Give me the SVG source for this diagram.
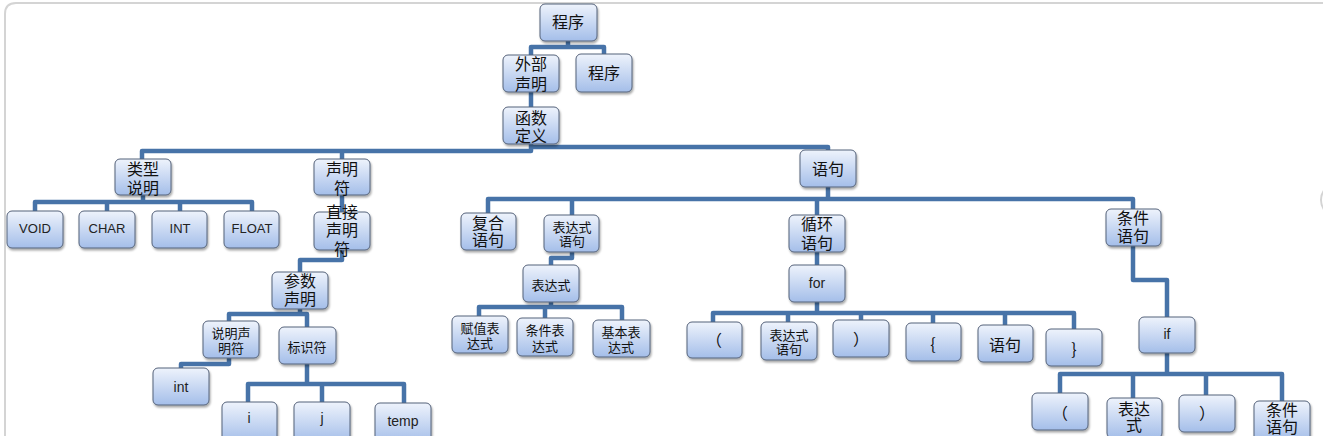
<svg xmlns="http://www.w3.org/2000/svg" width="1323" height="436" viewBox="0 0 1323 436">
<style>
.b{fill:url(#g);stroke:#55627a;stroke-width:1;filter:url(#sh)}
.t{font-family:"Noto Sans CJK SC","Liberation Sans",sans-serif;font-size:16px;fill:#111;text-anchor:middle;dominant-baseline:central}
.s{font-size:13px}
.l{font-family:"Liberation Sans","Noto Sans",sans-serif;font-size:13px;fill:#222;text-anchor:middle;dominant-baseline:central}
.m{font-size:14px}
.k{fill:none;stroke:#4773a8;stroke-width:4.5;stroke-linejoin:round}
.f{fill:none;stroke:#d4d4d4;stroke-width:2}
</style>
<defs>
<linearGradient id="g" x1="0" y1="0" x2="0" y2="1">
<stop offset="0" stop-color="#eef3fc"/>
<stop offset="1" stop-color="#a4bee9"/>
</linearGradient>
<filter id="sh" x="-20%" y="-20%" width="150%" height="150%">
<feDropShadow dx="1" dy="2" stdDeviation="1.3" flood-color="#000" flood-opacity="0.35"/>
</filter>
</defs>
<rect width="1323" height="436" fill="#fff"/>
<g id="frame">
<path class="f" d="M5,436 V14 Q5,3 16,3 H1323"/>
<circle class="f" cx="1338" cy="200" r="17"/>
</g>
<g id="connectors">
<path class="k" d="M531,55 V47 H604 V54 M568,41 V47"/>
<path class="k" d="M531,92 V107"/>
<path class="k" d="M142,159 V151 H531 V144 M342,151 V159 M531,147 H828 V150"/>
<path class="k" d="M143,195 V202 M35,211 V202 H252 V211 M107,202 V211 M180,202 V211"/>
<path class="k" d="M342,195 V212"/>
<path class="k" d="M342,250 V260 H300 V272"/>
<path class="k" d="M300,309 V314 H229 V321 M300,314 H307 V327"/>
<path class="k" d="M229,358 V364 H181 V368"/>
<path class="k" d="M307,364 V384 M248,402 V384 H404 V403 M322,384 V402"/>
<path class="k" d="M828,187 V199 M488,213 V199 H1133 V209 M572,199 V215 M817,199 V215"/>
<path class="k" d="M572,252 V258 H551 V265"/>
<path class="k" d="M551,302 V307 M479,316 V307 H622 V320 M545,307 V318"/>
<path class="k" d="M817,252 V265"/>
<path class="k" d="M817,302 V313 M713,322 V313 H1074 V329 M788,313 V322 M861,313 V320 M933,313 V323 M1005,313 V325"/>
<path class="k" d="M1133,246 V280 H1167 V317"/>
<path class="k" d="M1167,353 V374 M1060,393 V374 H1282 V401 M1133,374 V398 M1206,374 V395"/>
</g>
<g id="n-root"><rect class="b" x="540" y="4" width="57" height="37" rx="5"/><text class="t" x="568" y="21">程序</text></g>
<g id="n-wbsm"><rect class="b" x="503" y="55" width="56" height="37" rx="5"/><text class="t"><tspan x="531" y="63">外部</tspan><tspan x="531" y="83">声明</tspan></text></g>
<g id="n-prog2"><rect class="b" x="576" y="54" width="56" height="38" rx="5"/><text class="t" x="604" y="72">程序</text></g>
<g id="n-hsdy"><rect class="b" x="503" y="107" width="56" height="37" rx="5"/><text class="t"><tspan x="531" y="117">函数</tspan><tspan x="531" y="135">定义</tspan></text></g>
<g id="n-lxsm"><rect class="b" x="115" y="159" width="56" height="36" rx="5"/><text class="t"><tspan x="143" y="168">类型</tspan><tspan x="143" y="187">说明</tspan></text></g>
<g id="n-sm"><rect class="b" x="314" y="159" width="56" height="36" rx="5"/><text class="t"><tspan x="342" y="168">声明</tspan><tspan x="342" y="187">符</tspan></text></g>
<g id="n-yj"><rect class="b" x="800" y="150" width="56" height="37" rx="5"/><text class="t" x="828" y="168">语句</text></g>
<g id="n-void"><rect class="b" x="7" y="211" width="56" height="37" rx="5"/><text class="l" x="35" y="228">VOID</text></g>
<g id="n-char"><rect class="b" x="79" y="211" width="56" height="37" rx="5"/><text class="l" x="107" y="228">CHAR</text></g>
<g id="n-int1"><rect class="b" x="152" y="211" width="55" height="37" rx="5"/><text class="l" x="180" y="228">INT</text></g>
<g id="n-float"><rect class="b" x="224" y="211" width="55" height="37" rx="5"/><text class="l" x="252" y="228">FLOAT</text></g>
<g id="n-zjsmf"><rect class="b" x="314" y="212" width="56" height="38" rx="5"/><text class="t"><tspan x="342" y="211">直接</tspan><tspan x="342" y="229">声明</tspan><tspan x="342" y="248">符</tspan></text></g>
<g id="n-cssm"><rect class="b" x="272" y="272" width="56" height="37" rx="5"/><text class="t"><tspan x="300" y="280">参数</tspan><tspan x="300" y="298">声明</tspan></text></g>
<g id="n-smsmf"><rect class="b" x="203" y="321" width="56" height="37" rx="5"/><text class="t s"><tspan x="231" y="332">说明声</tspan><tspan x="231" y="347">明符</tspan></text></g>
<g id="n-bsf"><rect class="b" x="279" y="327" width="57" height="37" rx="5"/><text class="t s" x="307" y="346">标识符</text></g>
<g id="n-int"><rect class="b" x="153" y="368" width="56" height="37" rx="5"/><text class="l m" x="181" y="387">int</text></g>
<g id="n-i"><rect class="b" x="222" y="402" width="55" height="40" rx="5"/><text class="l m" x="249" y="418">i</text></g>
<g id="n-j"><rect class="b" x="294" y="402" width="56" height="40" rx="5"/><text class="l m" x="322" y="418">j</text></g>
<g id="n-temp"><rect class="b" x="375" y="403" width="56" height="40" rx="5"/><text class="l m" x="403" y="421">temp</text></g>
<g id="n-fhyj"><rect class="b" x="461" y="213" width="55" height="37" rx="5"/><text class="t"><tspan x="488" y="222">复合</tspan><tspan x="488" y="239">语句</tspan></text></g>
<g id="n-bdsyj"><rect class="b" x="544" y="215" width="55" height="37" rx="5"/><text class="t s"><tspan x="572" y="226">表达式</tspan><tspan x="572" y="240">语句</tspan></text></g>
<g id="n-xhyj"><rect class="b" x="789" y="215" width="56" height="37" rx="5"/><text class="t"><tspan x="817" y="223">循环</tspan><tspan x="817" y="242">语句</tspan></text></g>
<g id="n-tjyj"><rect class="b" x="1106" y="209" width="55" height="37" rx="5"/><text class="t"><tspan x="1133" y="217">条件</tspan><tspan x="1133" y="235">语句</tspan></text></g>
<g id="n-bds"><rect class="b" x="523" y="265" width="56" height="37" rx="5"/><text class="t s" x="551" y="284">表达式</text></g>
<g id="n-fzbds"><rect class="b" x="452" y="316" width="56" height="37" rx="5"/><text class="t s"><tspan x="480" y="327">赋值表</tspan><tspan x="480" y="342">达式</tspan></text></g>
<g id="n-tjbds"><rect class="b" x="517" y="318" width="56" height="38" rx="5"/><text class="t s"><tspan x="545" y="329">条件表</tspan><tspan x="545" y="345">达式</tspan></text></g>
<g id="n-jbbds"><rect class="b" x="593" y="320" width="57" height="37" rx="5"/><text class="t s"><tspan x="621" y="331">基本表</tspan><tspan x="621" y="346">达式</tspan></text></g>
<g id="n-for"><rect class="b" x="789" y="265" width="56" height="37" rx="5"/><text class="l m" x="817" y="283">for</text></g>
<g id="n-lp1"><rect class="b" x="687" y="322" width="55" height="36" rx="5"/><text class="t" x="714" y="339">（</text></g>
<g id="n-bdsyj2"><rect class="b" x="761" y="322" width="56" height="38" rx="5"/><text class="t s"><tspan x="789" y="334">表达式</tspan><tspan x="789" y="348">语句</tspan></text></g>
<g id="n-rp1"><rect class="b" x="833" y="320" width="56" height="37" rx="5"/><text class="t" x="861" y="338">）</text></g>
<g id="n-lb"><rect class="b" x="906" y="323" width="55" height="38" rx="5"/><text class="t" x="933" y="343">{</text></g>
<g id="n-yj2"><rect class="b" x="978" y="325" width="55" height="37" rx="5"/><text class="t" x="1005" y="344">语句</text></g>
<g id="n-rb"><rect class="b" x="1046" y="329" width="56" height="37" rx="5"/><text class="t" x="1074" y="348">}</text></g>
<g id="n-if"><rect class="b" x="1139" y="317" width="56" height="36" rx="5"/><text class="l m" x="1167" y="334">if</text></g>
<g id="n-lp2"><rect class="b" x="1032" y="393" width="56" height="37" rx="5"/><text class="t" x="1060" y="412">（</text></g>
<g id="n-bds3"><rect class="b" x="1107" y="398" width="55" height="40" rx="5"/><text class="t"><tspan x="1134" y="408">表达</tspan><tspan x="1134" y="424">式</tspan></text></g>
<g id="n-rp2"><rect class="b" x="1179" y="395" width="56" height="37" rx="5"/><text class="t" x="1207" y="412">）</text></g>
<g id="n-tjyj2"><rect class="b" x="1254" y="401" width="56" height="40" rx="5"/><text class="t"><tspan x="1282" y="409">条件</tspan><tspan x="1282" y="426">语句</tspan></text></g>
</svg>
